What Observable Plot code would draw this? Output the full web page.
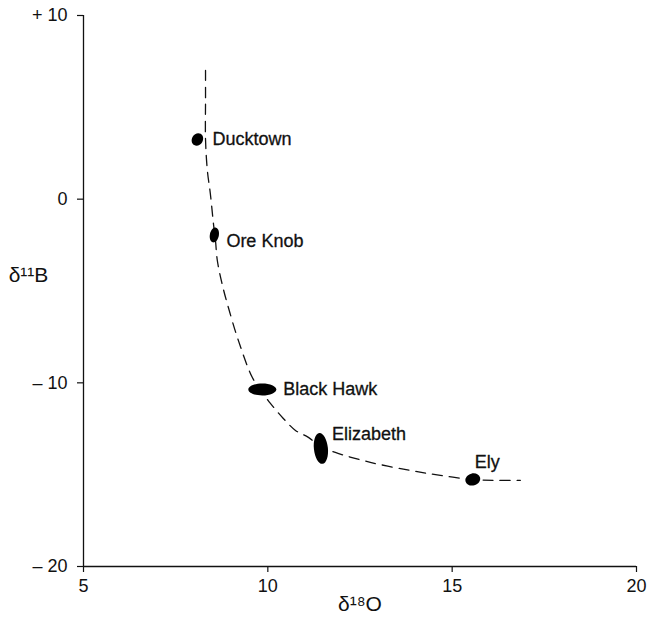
<!DOCTYPE html>
<html><head><meta charset="utf-8">
<script src="https://cdn.jsdelivr.net/npm/d3@7"></script>
<script src="https://cdn.jsdelivr.net/npm/@observablehq/plot@0.6"></script>
<style>body{margin:0;background:#fff}</style>
</head><body><div id="chart"></div>
<script>
// ---- data ----
const sites = ["Ducktown", "Ore Knob", "Black Hawk", "Elizabeth", "Ely"];
const d18O = [8.09, 8.55, 9.85, 11.44, 15.56];
const d11B = [3.25, -1.95, -10.36, -13.57, -15.26];

const curveO = [8.31, 8.31, 8.31, 8.36, 8.44, 8.53, 8.58, 8.63, 8.77, 8.93, 9.20, 9.58, 9.85, 10.07, 10.42, 10.75, 11.10, 11.43, 11.83, 12.78, 13.87, 14.68, 15.55, 16.17, 16.85];
const curveB = [7.01, 5.37, 3.25, 1.56, 0.31, -1.43, -2.25, -3.34, -4.70, -5.90, -7.69, -9.71, -10.52, -11.12, -11.94, -12.59, -12.97, -13.46, -13.79, -14.33, -14.77, -15.04, -15.26, -15.31, -15.31];

const xTicks = [5, 10, 15, 20];
const xTickLabels = ["5", "10", "15", "20"];
const yTicks = [10, 0, -10, -20];
const yTickLabels = ["+ 10", "0", "\u2013 10", "\u2013 20"];
const xLabel = "δ¹⁸O";
const yLabel = "δ¹¹B";

// ---- styles (marker shapes in px: rx, ry, rotation deg; label offsets in px) ----
const markerShape = {
  "Ducktown": [5.5, 6.5, 30],
  "Ore Knob": [4.5, 7.5, 12],
  "Black Hawk": [14, 6, 0],
  "Elizabeth": [7, 15.5, -6],
  "Ely": [7.5, 6, -15]
};
const labelOffset = {
  "Ducktown": [15, 0],
  "Ore Knob": [12, 6],
  "Black Hawk": [21, 0],
  "Elizabeth": [11, -14],
  "Ely": [2, -17]
};
const FONT = "'Liberation Sans', Arial, Helvetica, sans-serif";

function ellipseSymbol(rx, ry, deg) {
  const a = deg * Math.PI / 180, c = Math.cos(a), s = Math.sin(a), k = 0.5523;
  const P = (x, y) => [x * c - y * s, x * s + y * c];
  return {
    draw(ctx) {
      const pts = [
        [rx, 0], [rx, k * ry], [k * rx, ry], [0, ry],
        [-k * rx, ry], [-rx, k * ry], [-rx, 0],
        [-rx, -k * ry], [-k * rx, -ry], [0, -ry],
        [k * rx, -ry], [rx, -k * ry], [rx, 0]
      ].map(p => P(p[0], p[1]));
      ctx.moveTo(pts[0][0], pts[0][1]);
      for (let i = 1; i < pts.length; i += 3) {
        ctx.bezierCurveTo(pts[i][0], pts[i][1], pts[i + 1][0], pts[i + 1][1], pts[i + 2][0], pts[i + 2][1]);
      }
      ctx.closePath();
    }
  };
}

const points = sites.map((s, i) => ({site: s, o: d18O[i], b: d11B[i]}));
const curve = curveO.map((o, i) => ({o, b: curveB[i]}));

const labelMarks = points.map(p => Plot.text([p], {
  x: "o", y: "b", text: "site",
  dx: labelOffset[p.site][0], dy: labelOffset[p.site][1],
  textAnchor: "start", fontSize: 18, fontFamily: FONT, fill: "#111",
  stroke: "#111", strokeWidth: 0.3
}));

const chart = Plot.plot({
  width: 648,
  height: 629,
  marginTop: 15,
  marginRight: 12,
  marginBottom: 63,
  marginLeft: 83,
  style: {fontFamily: FONT, fontSize: "18px", color: "#111", background: "#fff"},
  x: {domain: [5, 20]},
  y: {domain: [-20, 10]},
  marks: [
    Plot.axisX({ticks: xTicks, tickFormat: d => xTickLabels[xTicks.indexOf(d)], tickSize: 6, tickPadding: 7, label: null, strokeWidth: 1.2}),
    Plot.axisY({ticks: yTicks, tickFormat: d => yTickLabels[yTicks.indexOf(d)], tickSize: 6, tickPadding: 10, label: null, strokeWidth: 1.2}),
    Plot.ruleX([5], {y1: -20, y2: 10, stroke: "#111", strokeWidth: 1.3}),
    Plot.ruleY([-20], {x1: 5, x2: 20, stroke: "#111", strokeWidth: 1.3}),
    Plot.line(curve, {x: "o", y: "b", curve: "catmull-rom", stroke: "#111", strokeWidth: 1.3, strokeDasharray: "10,7"}),
    Plot.dot(points, {x: "o", y: "b", r: 5, fill: "#000", stroke: "none",
      symbol: d => ellipseSymbol(...markerShape[d.site])}),
    ...labelMarks,
    Plot.text([yLabel], {frameAnchor: "left", text: d => d, dx: -55, dy: -16, textAnchor: "middle", fontSize: 21, fontFamily: FONT, fill: "#111"}),
    Plot.text([xLabel], {frameAnchor: "bottom", text: d => d, dy: 44, textAnchor: "middle", fontSize: 21, fontFamily: FONT, fill: "#111"})
  ]
});
document.getElementById("chart").appendChild(chart);
</script>
</body></html>
